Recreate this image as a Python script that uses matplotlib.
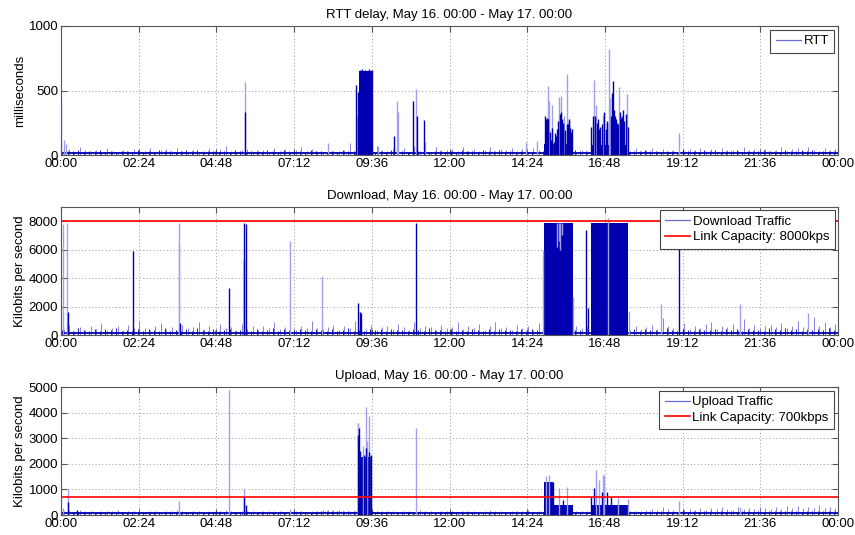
import matplotlib
matplotlib.use("Agg")
import matplotlib.pyplot as plt

# ---------------- data ----------------
tick_hours = [0, 2.4, 4.8, 7.2, 9.6, 12.0, 14.4, 16.8, 19.2, 21.6, 24.0]
tick_labels = ["00:00", "02:24", "04:48", "07:12", "09:36", "12:00",
               "14:24", "16:48", "19:12", "21:36", "00:00"]

# background noise peaks, one per 10 minutes (light) and offset by 5 minutes (dark)
rtt_noise = [30, 45, 25, 60, 35, 28, 40, 22, 55, 30, 26, 38,
             34, 48, 25, 30, 52, 27, 36, 44, 29, 58, 31, 25,
             40, 26, 33, 57, 28, 45, 70, 30, 24, 38, 50, 27,
             35, 42, 26, 55, 30, 48, 25, 37, 60, 28, 44, 31,
             26, 52, 34, 29, 41, 90, 27, 38, 30, 45, 66, 35,
             28, 44, 36, 55, 25, 70, 32, 48, 27, 60, 35, 40,
             45, 30, 62, 28, 50, 33, 41, 65, 29, 46, 38, 55,
             30, 48, 26, 57, 35, 42, 28, 39, 50, 33, 47, 25,
             38, 29, 52, 44, 27, 36, 60, 31, 45, 28, 55, 34,
             42, 58, 30, 47, 25, 39, 63, 28, 44, 36, 52, 30,
             48, 27, 56, 35, 41, 29, 62, 38, 45, 30, 50, 33,
             36, 59, 28, 45, 52, 31, 64, 40, 29, 55, 38, 47]
rtt_noise2 = [26, 33, 28, 40, 24, 31, 29, 36, 25, 34, 27, 30,
              32, 25, 38, 27, 30, 24, 35, 28, 33, 26, 31, 37,
              28, 36, 24, 30, 34, 27, 32, 25, 39, 29, 26, 33,
              30, 24, 35, 28, 26, 37, 31, 27, 33, 25, 36, 29,
              34, 27, 30, 25, 38, 28, 32, 26, 35, 30, 24, 31,
              27, 35, 29, 32, 26, 34, 28, 37, 25, 30, 33, 27,
              31, 26, 36, 29, 33, 25, 38, 28, 30, 35, 27, 32,
              25, 34, 30, 27, 36, 29, 32, 26, 35, 28, 31, 37,
              29, 33, 26, 35, 30, 27, 34, 28, 38, 25, 32, 30,
              36, 28, 31, 26, 34, 30, 27, 35, 29, 33, 25, 38,
              30, 35, 27, 32, 29, 36, 26, 31, 34, 28, 37, 30,
              33, 27, 36, 30, 28, 35, 31, 39, 27, 32, 29, 34]
dl_noise = [450, 700, 300, 550, 380, 620, 420, 850, 350, 500, 600, 330,
            700, 480, 950, 520, 380, 620, 850, 430, 560, 300, 720, 480,
            550, 900, 420, 650, 380, 760, 480, 560, 350, 800, 430, 620,
            380, 650, 520, 900, 430, 560, 750, 380, 620, 480, 950, 520,
            430, 580, 700, 350, 620, 480, 1000, 560, 420, 680, 380, 540,
            650, 420, 780, 530, 380, 900, 460, 620, 560, 350, 720, 480,
            560, 880, 420, 650, 500, 760, 380, 620, 940, 470, 560, 380,
            720, 480, 600, 380, 850, 520, 640, 430, 560, 700, 390, 610,
            480, 650, 380, 720, 560, 430, 620, 700, 520, 380, 660, 450,
            580, 720, 430, 1200, 620, 480, 560, 850, 430, 640, 500, 760,
            880, 430, 620, 560, 740, 380, 1100, 520, 680, 450, 600, 720,
            560, 830, 470, 650, 1000, 580, 720, 1300, 640, 900, 560, 780]
dl_noise2 = [320, 410, 280, 500, 360, 300, 450, 270, 390, 330, 480, 290,
             370, 300, 440, 260, 410, 350, 290, 520, 310, 380, 270, 430,
             300, 460, 340, 280, 400, 310, 370, 450, 290, 350, 420, 300,
             410, 280, 360, 470, 300, 390, 330, 280, 440, 360, 290, 400,
             350, 300, 420, 290, 380, 460, 310, 350, 280, 420, 330, 390,
             290, 440, 330, 370, 280, 410, 350, 300, 460, 320, 380, 290,
             400, 310, 360, 290, 430, 340, 300, 390, 280, 450, 330, 370,
             300, 420, 280, 390, 340, 300, 460, 320, 380, 290, 410, 350,
             330, 290, 450, 360, 300, 400, 280, 430, 350, 310, 390, 300,
             420, 330, 380, 300, 470, 350, 310, 400, 360, 290, 440, 330,
             360, 410, 300, 450, 330, 390, 290, 420, 340, 380, 310, 470,
             390, 330, 480, 360, 420, 310, 450, 370, 400, 340, 490, 360]
ul_noise = [150, 200, 120, 180, 140, 160, 130, 170, 150, 140, 190, 130,
            160, 140, 180, 120, 150, 170, 130, 160, 140, 180, 150, 120,
            140, 170, 130, 160, 120, 150, 180, 140, 130, 160, 150, 140,
            130, 160, 150, 140, 170, 120, 150, 160, 140, 130, 170, 150,
            180, 200, 190, 210, 170, 150, 160, 140, 170, 130, 160, 150,
            140, 170, 120, 160, 150, 130, 180, 140, 160, 120, 150, 170,
            150, 130, 170, 140, 160, 120, 150, 180, 140, 160, 130, 150,
            160, 140, 180, 130, 150, 170, 140, 160, 120, 150, 130, 170,
            140, 160, 130, 150, 170, 140, 160, 130, 180, 150, 140, 160,
            200, 250, 180, 300, 220, 190, 260, 210, 240, 180, 270, 200,
            280, 220, 320, 250, 210, 300, 240, 270, 230, 310, 260, 220,
            300, 250, 340, 280, 360, 260, 320, 290, 400, 270, 330, 280]
ul_noise2 = [110, 130, 100, 120, 115, 105, 125, 110, 120, 100, 130, 115,
             120, 105, 125, 110, 100, 120, 115, 130, 105, 110, 125, 100,
             115, 125, 105, 120, 110, 130, 100, 115, 120, 110, 105, 125,
             110, 120, 130, 105, 115, 100, 125, 110, 120, 115, 105, 130,
             140, 150, 145, 160, 150, 140, 155, 135, 150, 120, 110, 105,
             115, 105, 125, 110, 120, 100, 115, 130, 105, 120, 110, 125,
             120, 110, 105, 125, 115, 130, 100, 110, 125, 105, 120, 115,
             105, 125, 115, 100, 120, 110, 130, 105, 115, 125, 100, 120,
             115, 100, 120, 130, 105, 115, 125, 110, 100, 120, 115, 105,
             125, 140, 120, 150, 130, 135, 120, 145, 125, 140, 130, 150,
             140, 130, 155, 135, 145, 125, 150, 140, 130, 160, 135, 145,
             150, 140, 165, 145, 155, 135, 160, 150, 170, 140, 155, 150]

rtt_base, dl_base, ul_base = 18, 150, 70

# saturated periods: (start hour, end hour, level)
rtt_bands = [(9.21, 9.62, 650), (14.93, 15.80, 85), (16.36, 17.52, 80)]
dl_bands = [(14.93, 15.80, 7900), (16.36, 17.52, 7900)]
ul_bands = [(9.16, 9.62, 2250), (14.93, 15.20, 1300), (15.20, 15.80, 400),
            (16.36, 17.52, 400)]

# individual spikes: hour, value, shade (d = dark, l = light)
rtt_spikes = [(0.0, 440, 'l'), (0.09, 116, 'l'), (0.15, 85, 'l'), (5.68, 565, 'l'),
              (5.68, 330, 'd'), (8.24, 90, 'l'), (9.11, 540, 'd'), (9.18, 490, 'd'),
              (9.15, 300, 'l'), (9.25, 660, 'd'), (9.30, 670, 'd'), (9.40, 660, 'd'),
              (9.50, 670, 'd'), (9.60, 660, 'd'), (9.78, 70, 'l'), (10.28, 145, 'd'),
              (10.37, 415, 'l'), (10.42, 330, 'l'), (10.86, 420, 'd'), (10.97, 510, 'l'),
              (11.00, 300, 'd'), (11.20, 270, 'd'), (11.24, 100, 'l'), (14.35, 100, 'l'),
              (14.69, 105, 'l'),
              (15.03, 535, 'l'), (15.06, 420, 'l'), (15.18, 390, 'l'), (15.38, 450, 'l'),
              (15.44, 460, 'l'), (15.55, 300, 'l'), (15.63, 630, 'l'),
              (14.95, 300, 'd'), (14.97, 280, 'd'), (15.00, 290, 'd'), (15.02, 250, 'd'),
              (15.04, 280, 'd'), (15.10, 180, 'd'), (15.14, 120, 'd'), (15.18, 210, 'd'),
              (15.22, 100, 'd'), (15.25, 170, 'd'), (15.28, 150, 'd'), (15.32, 200, 'd'),
              (15.36, 260, 'd'), (15.40, 320, 'd'), (15.44, 330, 'd'), (15.47, 280, 'd'),
              (15.50, 250, 'd'), (15.52, 230, 'd'), (15.58, 190, 'd'), (15.62, 240, 'd'),
              (15.66, 240, 'd'), (15.68, 260, 'd'), (15.70, 280, 'd'), (15.72, 210, 'd'),
              (15.75, 180, 'd'), (15.77, 200, 'd'),
              (16.45, 580, 'l'), (16.51, 390, 'l'), (16.73, 310, 'l'), (16.92, 820, 'l'),
              (16.96, 440, 'l'), (17.24, 530, 'l'), (17.47, 470, 'l'),
              (16.38, 220, 'd'), (16.42, 300, 'd'), (16.48, 300, 'd'), (16.55, 250, 'd'),
              (16.60, 280, 'd'), (16.62, 200, 'd'), (16.66, 220, 'd'), (16.70, 240, 'd'),
              (16.78, 330, 'd'), (16.82, 200, 'd'), (16.85, 250, 'd'), (16.88, 260, 'd'),
              (16.99, 300, 'd'), (17.02, 480, 'd'), (17.06, 570, 'd'), (17.09, 350, 'd'),
              (17.12, 300, 'd'), (17.15, 280, 'd'), (17.18, 250, 'd'), (17.21, 240, 'd'),
              (17.27, 330, 'd'), (17.30, 290, 'd'), (17.33, 300, 'd'), (17.36, 350, 'd'),
              (17.40, 260, 'd'), (17.45, 320, 'd'), (17.50, 220, 'd'),
              (19.10, 170, 'l')]
dl_spikes = [(0.07, 7800, 'l'), (0.20, 7900, 'l'), (0.22, 1600, 'd'), (2.23, 5900, 'd'),
             (3.65, 7900, 'l'), (3.63, 6350, 'l'), (3.67, 820, 'd'), (5.18, 3320, 'd'),
             (5.64, 5300, 'd'), (5.66, 7900, 'd'), (5.70, 7800, 'd'), (7.07, 6590, 'l'),
             (8.06, 4130, 'l'), (9.18, 2270, 'd'), (9.24, 1600, 'd'), (9.26, 1550, 'd'),
             (10.97, 7900, 'd'), (14.90, 6000, 'l'), (15.83, 2700, 'l'), (16.22, 7350, 'd'),
             (16.29, 1900, 'd'), (16.90, 8250, 'l'), (17.55, 1700, 'l'), (18.54, 2170, 'l'),
             (19.10, 6800, 'd'), (20.97, 2170, 'l'), (23.08, 1550, 'l')]
dl_dips = [(15.33, 6200), (15.38, 6600), (15.42, 6000), (15.48, 7000)]
ul_spikes = [(0.07, 260, 'l'), (0.22, 1020, 'l'), (0.22, 500, 'd'), (0.50, 200, 'd'),
             (3.63, 550, 'l'), (5.18, 4900, 'l'), (5.66, 1020, 'l'), (5.66, 720, 'd'),
             (5.70, 400, 'd'), (7.07, 250, 'l'),
             (9.16, 3590, 'l'), (9.18, 3600, 'l'), (9.17, 3120, 'd'), (9.20, 3400, 'd'),
             (9.25, 2500, 'd'), (9.34, 2700, 'l'), (9.36, 2350, 'd'), (9.41, 4200, 'l'),
             (9.43, 2600, 'd'), (9.46, 2900, 'l'), (9.52, 3850, 'l'), (9.50, 2450, 'd'),
             (9.58, 2350, 'd'), (10.97, 3400, 'l'),
             (14.98, 1540, 'l'), (15.08, 1560, 'l'), (15.20, 1300, 'd'), (15.39, 1050, 'l'),
             (15.63, 1100, 'l'), (15.50, 600, 'd'),
             (16.38, 700, 'd'), (16.45, 1050, 'd'), (16.51, 1760, 'l'), (16.62, 1350, 'l'),
             (16.73, 1550, 'l'), (16.78, 1550, 'l'), (16.70, 900, 'd'), (16.85, 900, 'd'),
             (17.00, 700, 'd'), (17.20, 650, 'l'), (17.50, 620, 'l'), (19.10, 550, 'l'),
             (20.97, 320, 'l')]

dl_capacity = 8000
ul_capacity = 700

# ---------------- style ----------------
plt.rcParams['font.family'] = ['Liberation Sans', 'DejaVu Sans']
FS = 9.5
DARK = "#0000B0"
LIGHT = "#A0A0EC"
MID = "#7070DC"
LEG = "#6A6AD8"

fig = plt.figure(figsize=(8.55, 5.35), dpi=100)
L, W = 61 / 855, 777 / 855
rects = [(L, 380 / 535, W, 129 / 535),
         (L, 200 / 535, W, 128 / 535),
         (L, 20 / 535, W, 128 / 535)]
axes = [fig.add_axes(r) for r in rects]

noise_t = [(i + 0.5) / 6 for i in range(144)]
noise_t2 = [(i + 0.0) / 6 + 0.04 for i in range(144)]


def draw_panel(ax, noise, noise2, base, bands, spikes):
    ax.vlines(noise_t, 0, noise, color=MID, lw=0.6, zorder=2)
    ax.vlines(noise_t2, 0, noise2, color=DARK, lw=0.6, zorder=2.2)
    ax.plot([0, 24], [base, base], color=DARK, lw=1.3, zorder=2.5)
    for (s, e, top) in bands:
        ax.fill_between([s, e], 0, top, color=DARK, lw=0, zorder=3)
    for (t, v, sh) in spikes:
        ax.vlines(t, 0, v, color=LIGHT if sh == 'l' else DARK,
                  lw=1.0, zorder=4 if sh == 'd' else 3.5)


def style(ax, title, ylabel, ylim, yticks):
    ax.set_xlim(0, 24)
    ax.set_ylim(*ylim)
    ax.set_xticks(tick_hours)
    ax.set_xticklabels(tick_labels, fontsize=FS)
    ax.set_yticks(yticks)
    ax.set_yticklabels([str(v) for v in yticks], fontsize=FS)
    ax.tick_params(direction='in', top=True, right=True, length=4,
                   color="#555555", pad=2)
    for sp in ax.spines.values():
        sp.set_color("#555555")
        sp.set_linewidth(0.8)
        sp.set_zorder(6)
    ax.grid(True, linestyle=(0, (1, 2.5)), color="#999999", lw=0.7, zorder=1)
    ax.set_axisbelow(True)
    ax.set_title(title, fontsize=FS, pad=6)
    ax.set_ylabel(ylabel, fontsize=FS, labelpad=2)


def legend(ax, handles, pad):
    leg = ax.legend(handles=handles, loc="upper right", fontsize=FS, fancybox=False,
                    framealpha=1, edgecolor="#444444", borderaxespad=pad,
                    handlelength=1.9, handletextpad=0.2, borderpad=0.4,
                    labelspacing=0.25)
    leg.get_frame().set_linewidth(0.8)
    leg.set_zorder(10)


# RTT
ax = axes[0]
draw_panel(ax, rtt_noise, rtt_noise2, rtt_base, rtt_bands, rtt_spikes)
style(ax, "RTT delay, May 16. 00:00 - May 17. 00:00", "milliseconds",
      (0, 1000), [0, 500, 1000])
h1, = ax.plot([], [], color=LEG, lw=0.9, label="RTT")
legend(ax, [h1], 0.3)

# Download
ax = axes[1]
draw_panel(ax, dl_noise, dl_noise2, dl_base, dl_bands, dl_spikes)
ax.vlines([t for t, _ in dl_dips], [v for _, v in dl_dips], 7900,
          color=LIGHT, lw=1.0, zorder=4)
ax.plot([0, 24], [dl_capacity, dl_capacity], color="red", lw=1.2, zorder=5)
style(ax, "Download, May 16. 00:00 - May 17. 00:00", "Kilobits per second",
      (0, 9000), [0, 2000, 4000, 6000, 8000])
h1, = ax.plot([], [], color=LEG, lw=0.9, label="Download Traffic")
h2, = ax.plot([], [], color="red", lw=1.2, label="Link Capacity: 8000kps")
legend(ax, [h1, h2], 0.25)

# Upload
ax = axes[2]
draw_panel(ax, ul_noise, ul_noise2, ul_base, ul_bands, ul_spikes)
ax.plot([0, 24], [ul_capacity, ul_capacity], color="red", lw=1.2, zorder=5)
style(ax, "Upload, May 16. 00:00 - May 17. 00:00", "Kilobits per second",
      (0, 5000), [0, 1000, 2000, 3000, 4000, 5000])
h1, = ax.plot([], [], color=LEG, lw=0.9, label="Upload Traffic")
h2, = ax.plot([], [], color="red", lw=1.2, label="Link Capacity: 700kbps")
legend(ax, [h1, h2], 0.3)

fig.savefig("out.png", dpi=100)
